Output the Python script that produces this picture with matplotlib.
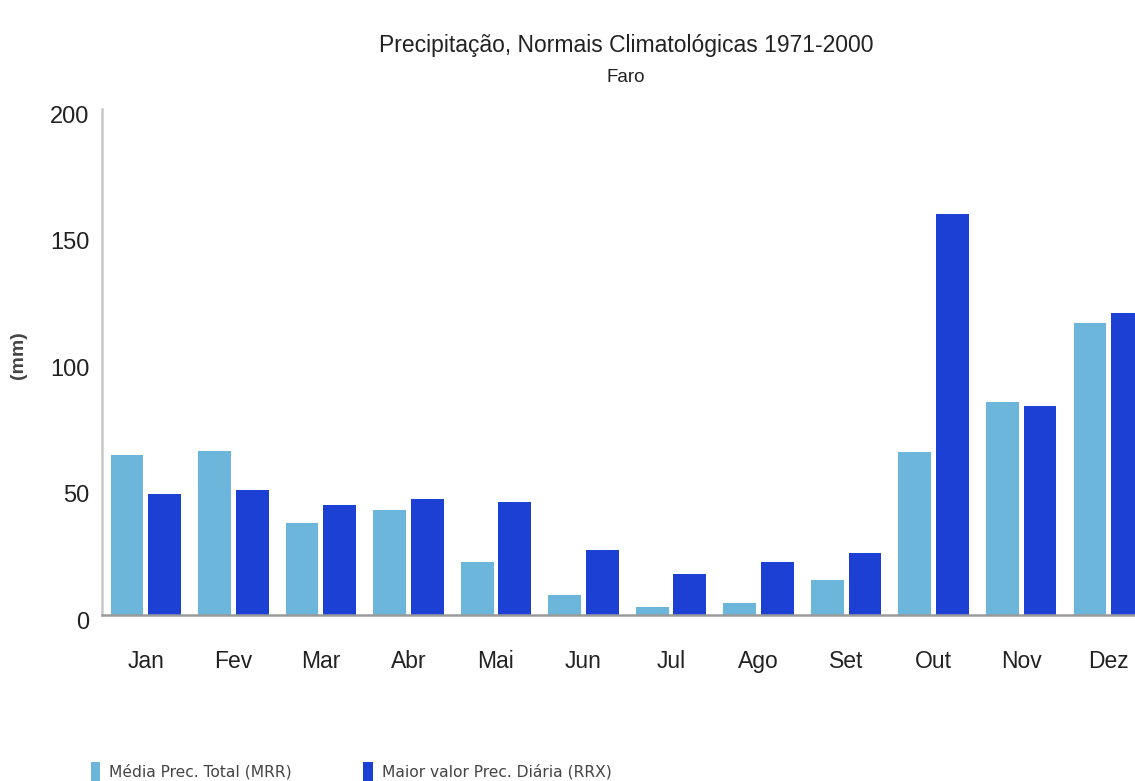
import matplotlib.pyplot as plt
import matplotlib.transforms as mtransforms
import numpy as np

months = ["Jan", "Fev", "Mar", "Abr", "Mai", "Jun", "Jul", "Ago", "Set", "Out", "Nov", "Dez"]
mrr = [63.4, 64.7, 36.4, 41.7, 20.9, 8.0, 3.0, 4.6, 14.0, 64.5, 84.1, 115.6]
rrx = [48.0, 49.4, 43.4, 45.8, 44.7, 25.7, 16.4, 20.9, 24.4, 158.6, 82.8, 119.3]
yticks = [0, 50, 100, 150, 200]

plt.rcParams['font.family'] = ['Liberation Sans', 'DejaVu Sans']

light = "#6cb6db"
dark = "#1c40d4"

fig = plt.figure(figsize=(11.35, 7.81), dpi=100)
ax = fig.add_axes([0.0899, 0.2125, 0.9101, 0.6473])

x = np.arange(len(months))
b1 = ax.bar(x - 0.215, mrr, width=0.375, color=light, label="Média Prec. Total (MRR)")
b2 = ax.bar(x + 0.215, rrx, width=0.375, color=dark, label="Maior valor Prec. Diária (RRX)")

ax.set_xlim(-0.5, 11.3)
ax.set_ylim(0, 200)
ax.set_yticks(yticks)
ax.set_xticks(x)
ax.set_xticklabels(months, fontsize=16.5, color="#222222")
ax.tick_params(axis='x', length=0, pad=25)
ax.tick_params(axis='y', length=0, pad=9, labelsize=17, labelcolor="#222222")
shift = mtransforms.ScaledTranslation(0, -5 / 100, fig.dpi_scale_trans)
for lab in ax.get_yticklabels():
    lab.set_transform(lab.get_transform() + shift)

for s in ["top", "right"]:
    ax.spines[s].set_visible(False)
ax.spines["left"].set_color("#c8c8c8")
ax.spines["left"].set_linewidth(1.8)
ax.spines["bottom"].set_color("#9a9a9a")
ax.spines["bottom"].set_linewidth(1.8)

fig.text(0.5515, 0.942, "Precipitação, Normais Climatológicas 1971-2000", ha="center", va="center",
         fontsize=16.5, color="#222222")
fig.text(0.5515, 0.901, "Faro", ha="center", va="center", fontsize=13.5, color="#222222")
fig.text(0.016, 0.545, "(mm)", rotation=90, ha="center", va="center", fontsize=14,
         fontweight="bold", color="#444444")

fig.legend(handles=[b1, b2], loc="center left", bbox_to_anchor=(0.0675, 0.012), ncol=2,
           frameon=False, handlelength=0.6, handleheight=1.5, handletextpad=0.6,
           columnspacing=4.6, prop={"family": "DejaVu Sans", "size": 11.2}, labelcolor="#444444")

fig.savefig("out.png", dpi=100)
